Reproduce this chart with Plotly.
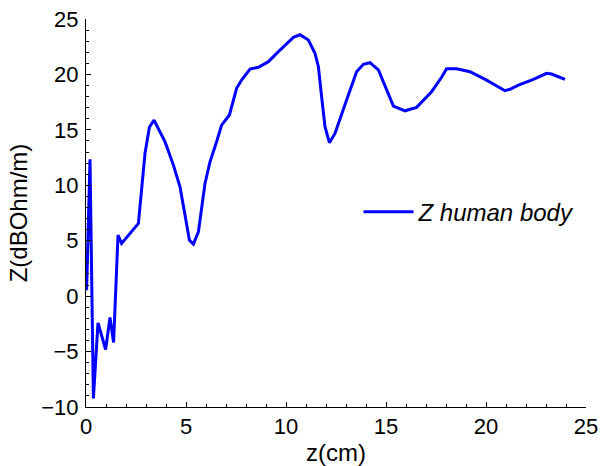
import plotly.graph_objects as go

z_cm = [0.03, 0.2, 0.37, 0.6, 0.98, 1.2, 1.38, 1.6, 1.78, 2.62, 2.95, 3.17, 3.4, 3.95,
        4.37, 4.7, 4.95, 5.17, 5.37, 5.62, 5.95, 6.2, 6.53, 6.78, 7.17, 7.53, 7.78, 8.2,
        8.62, 9.12, 9.7, 10.37, 10.7, 11.12, 11.45, 11.62, 11.78, 11.95, 12.17, 12.45,
        13.03, 13.53, 13.87, 14.2, 14.62, 14.95, 15.37, 15.95, 16.53, 17.28, 17.78, 18.03,
        18.53, 19.2, 20.03, 20.95, 21.2, 21.62, 22.37, 23.03, 23.28, 23.95]
z_db = [0.54, 12.34, -9.23, -2.41, -4.81, -1.92, -4.18, 5.5, 4.76, 6.56, 12.88, 15.23,
        15.88, 13.93, 11.82, 9.86, 7.31, 5.05, 4.69, 5.8, 10.17, 12.12, 13.93, 15.43,
        16.34, 18.75, 19.5, 20.49, 20.64, 21.15, 22.2, 23.35, 23.58, 23.1, 21.9, 20.7,
        17.99, 15.28, 13.84, 14.68, 17.69, 20.24, 20.91, 21.06, 20.4, 18.89, 17.15, 16.72,
        17.03, 18.44, 19.74, 20.51, 20.51, 20.24, 19.49, 18.53, 18.66, 19.04, 19.56, 20.1,
        20.04, 19.56]

x_ticks = [0, 5, 10, 15, 20, 25]
y_ticks = [-10, -5, 0, 5, 10, 15, 20, 25]

FONT = "Liberation Sans, Arial, Helvetica, sans-serif"

fig = go.Figure()
fig.add_trace(go.Scatter(x=z_cm, y=z_db, mode="lines", name="Z human body",
                         line=dict(color="#0000FF", width=3)))

axis_common = dict(showline=True, linecolor="black", linewidth=1, mirror=False,
                   showgrid=False, zeroline=False, ticks="inside", ticklen=5,
                   tickwidth=1, tickcolor="black", automargin=False,
                   tickfont=dict(family=FONT, size=22, color="black"))

fig.update_xaxes(range=[0, 25], tickvals=x_ticks,
                 minor=dict(ticks="inside", ticklen=3, dtick=1, tickcolor="black", showgrid=False),
                 title=dict(text="z(cm)", font=dict(family=FONT, size=24, color="black"), standoff=9),
                 **axis_common)
fig.update_yaxes(range=[-10, 25], tickvals=y_ticks, ticklabelstandoff=2,
                 minor=dict(ticks="inside", ticklen=3, dtick=1, tickcolor="black", showgrid=False),
                 title=dict(text="Z(dBOhm/m)", font=dict(family=FONT, size=24, color="black"), standoff=6),
                 **axis_common)

fig.update_layout(
    width=601, height=466,
    margin=dict(l=86, r=15, t=19, b=59),
    plot_bgcolor="white", paper_bgcolor="white",
    showlegend=True,
    legend=dict(x=0.545, y=0.502, xanchor="left", yanchor="middle", itemwidth=50,
                bgcolor="rgba(0,0,0,0)", borderwidth=0,
                font=dict(family=FONT, size=24, color="black", style="italic")),
)

fig.write_html("out.html", config={"displayModeBar": False, "staticPlot": True},
               post_script="document.body.style.margin='0';document.body.style.overflow='hidden';")
